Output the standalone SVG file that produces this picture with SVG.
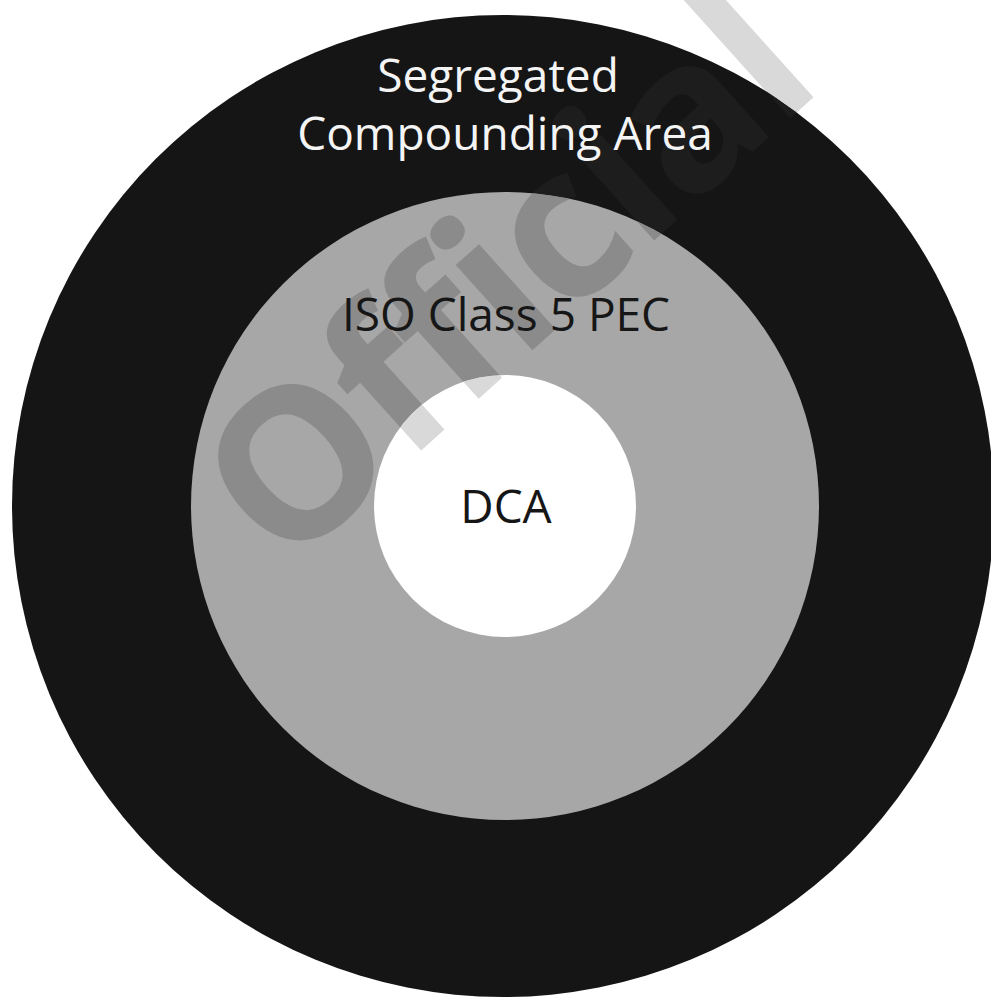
<svg xmlns="http://www.w3.org/2000/svg" xmlns:xlink="http://www.w3.org/1999/xlink" width="991" height="998" viewBox="0 0 991 998">
  <style>
    .label { font-family: "Open Sans", "Liberation Sans", sans-serif; font-size: 46px; text-anchor: middle; }
    .light { fill: #f4f4f4; }
    .dark { fill: #161616; }
    .mark { font-family: "Open Sans", "Liberation Sans", sans-serif; font-weight: 700; font-size: 210px; letter-spacing: -4px; }
  </style>
  <defs>
    <text id="stamp" class="mark" x="0" y="0" transform="translate(284 574) rotate(-42)">Official</text>
    <clipPath id="clip-outside">
      <path clip-rule="evenodd" d="M0 0H991V998H0Z M503 506m-491 0a491 491 0 1 0 982 0a491 491 0 1 0 -982 0Z"/>
    </clipPath>
    <clipPath id="clip-outer-ring">
      <path clip-rule="evenodd" d="M503 506m-491 0a491 491 0 1 0 982 0a491 491 0 1 0 -982 0Z M505 506m-314 0a314 314 0 1 0 628 0a314 314 0 1 0 -628 0Z"/>
    </clipPath>
    <clipPath id="clip-mid-ring">
      <path clip-rule="evenodd" d="M505 506m-314 0a314 314 0 1 0 628 0a314 314 0 1 0 -628 0Z M505 506m-131 0a131 131 0 1 0 262 0a131 131 0 1 0 -262 0Z"/>
    </clipPath>
    <clipPath id="clip-core">
      <circle cx="505" cy="506" r="131"/>
    </clipPath>
  </defs>

  <rect width="991" height="998" fill="#ffffff"/>

  <!-- nested zones -->
  <g id="segregated-compounding-area">
    <circle cx="503" cy="506" r="491" fill="#151515"/>
  </g>
  <g id="iso-class-5-pec">
    <circle cx="505" cy="506" r="314" fill="#a7a7a7"/>
  </g>
  <g id="dca">
    <circle cx="505" cy="506" r="131" fill="#ffffff"/>
  </g>

  <!-- stamp, tinted per zone -->
  <g id="stamp-overlay">
    <use xlink:href="#stamp" clip-path="url(#clip-outside)" fill="#d9d9d9"/>
    <use xlink:href="#stamp" clip-path="url(#clip-outer-ring)" fill="#1d1d1d"/>
    <use xlink:href="#stamp" clip-path="url(#clip-mid-ring)" fill="#8b8b8b"/>
    <use xlink:href="#stamp" clip-path="url(#clip-core)" fill="#d9d9d9"/>
  </g>

  <!-- zone labels -->
  <g id="labels">
    <text class="label light" x="498" y="92">Segregated</text>
    <text class="label light" x="505" y="150">Compounding Area</text>
    <text class="label dark" x="506" y="331">ISO Class 5 PEC</text>
    <text class="label dark" x="506" y="523">DCA</text>
  </g>
</svg>
